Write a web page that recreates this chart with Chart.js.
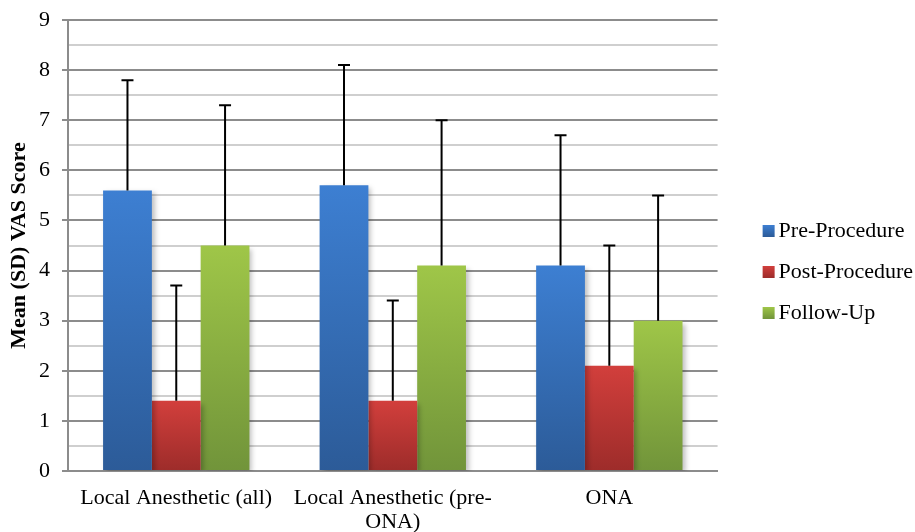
<!DOCTYPE html>
<html lang="en">
<head>
    <meta charset="utf-8"/>
    <script src="https://cdn.jsdelivr.net/npm/chart.js@4.4.0/dist/chart.umd.min.js"></script>
    <style>
        html, body { margin: 0; padding: 0; background: #fff; }
        #wrap { width: 915px; height: 532px; }
    </style>
</head>
<body>
    <div id="wrap"><canvas id="chart"></canvas></div>
    <script>
        // data
        const categories = ["Local Anesthetic (all)", ["Local Anesthetic (pre-", "ONA)"], "ONA"];
        const preProcedure = [5.6, 5.7, 4.1];
        const postProcedure = [1.4, 1.4, 2.1];
        const followUp = [4.5, 4.1, 3.0];
        const preSD = [2.2, 2.4, 2.6];
        const postSD = [2.3, 2.0, 2.4];
        const followSD = [2.8, 2.9, 2.5];

        const FONT = "'Liberation Serif', 'Times New Roman', serif";

        // top / bottom colours of each bar gradient
        const shades = [
            ["#3d7fd2", "#2c5b98"],
            ["#d23f3c", "#9d2c2a"],
            ["#9fc648", "#71943a"]
        ];

        function barGradient(pair) {
            return function(ctx) {
                const chart = ctx.chart;
                const y = chart.scales.y;
                if (!y || ctx.raw === undefined) return pair[0];
                const top = y.getPixelForValue(ctx.raw);
                const bottom = y.getPixelForValue(0);
                if (!isFinite(top) || !isFinite(bottom) || top === bottom) return pair[0];
                const g = chart.ctx.createLinearGradient(0, top, 0, bottom);
                g.addColorStop(0, pair[0]);
                g.addColorStop(1, pair[1]);
                return g;
            };
        }

        // legend marker: small square sitting at the right of a wider canvas
        function legendSquare(pair) {
            const cv = document.createElement("canvas");
            cv.width = 30;
            cv.height = 12;
            const c = cv.getContext("2d");
            const g = c.createLinearGradient(0, 0, 0, 12);
            g.addColorStop(0, pair[0]);
            g.addColorStop(1, pair[1]);
            c.fillStyle = g;
            c.fillRect(12, 0, 12, 12);
            return cv;
        }

        // upward-only error bars with a cap, drawn through the scales
        const errorBars = {
            id: "errorBars",
            afterDatasetsDraw(chart) {
                const c = chart.ctx;
                const y = chart.scales.y;
                c.save();
                c.strokeStyle = "#000";
                c.lineWidth = 2;
                chart.data.datasets.forEach((ds, i) => {
                    const meta = chart.getDatasetMeta(i);
                    meta.data.forEach((bar, j) => {
                        const yTop = y.getPixelForValue(ds.data[j] + ds.sd[j]);
                        c.beginPath();
                        c.moveTo(bar.x, bar.y);
                        c.lineTo(bar.x, yTop);
                        c.moveTo(bar.x - 6, yTop);
                        c.lineTo(bar.x + 6, yTop);
                        c.stroke();
                    });
                });
                c.restore();
            }
        };

        // soft drop shadow behind the bars
        const barShadow = {
            id: "barShadow",
            beforeDatasetDraw(chart) {
                const c = chart.ctx;
                c.save();
                c.shadowColor = "rgba(0,0,0,0.25)";
                c.shadowBlur = 5;
                c.shadowOffsetX = 3;
                c.shadowOffsetY = 3;
            },
            afterDatasetDraw(chart) {
                chart.ctx.restore();
            }
        };

        new Chart(document.getElementById("chart"), {
            type: "bar",
            data: {
                labels: categories,
                datasets: [
                    { label: "Pre-Procedure", data: preProcedure, sd: preSD, backgroundColor: barGradient(shades[0]) },
                    { label: "Post-Procedure", data: postProcedure, sd: postSD, backgroundColor: barGradient(shades[1]) },
                    { label: "Follow-Up", data: followUp, sd: followSD, backgroundColor: barGradient(shades[2]) }
                ]
            },
            options: {
                responsive: true,
                maintainAspectRatio: false,
                animation: false,
                layout: { padding: { top: 12, right: -8, left: 4, bottom: 0 } },
                datasets: {
                    bar: { categoryPercentage: 0.676, barPercentage: 1.0 }
                },
                plugins: {
                    tooltip: { enabled: false },
                    legend: {
                        position: "right",
                        maxWidth: 220,
                        labels: {
                            font: { family: FONT, size: 22 },
                            color: "#000",
                            usePointStyle: true,
                            boxWidth: 4,
                            boxHeight: 12,
                            padding: 19,
                            generateLabels(chart) {
                                return chart.data.datasets.map((ds, i) => ({
                                    text: ds.label,
                                    pointStyle: legendSquare(shades[i]),
                                    fillStyle: shades[i][0],
                                    strokeStyle: "rgba(0,0,0,0)",
                                    lineWidth: 0,
                                    datasetIndex: i
                                }));
                            }
                        }
                    }
                },
                scales: {
                    x: {
                        grid: { display: false, drawTicks: false },
                        border: { color: "#8c8c8c", width: 2 },
                        ticks: { font: { family: FONT, size: 22, lineHeight: 1.1 }, color: "#000", padding: 15, maxRotation: 0 },
                        afterFit(scale) { scale.height = 61; }
                    },
                    y: {
                        min: 0,
                        max: 9,
                        ticks: {
                            stepSize: 0.5,
                            autoSkip: false,
                            font: { family: FONT, size: 22 },
                            color: "#000",
                            padding: 12,
                            callback: v => Number.isInteger(v) ? v : ""
                        },
                        grid: {
                            color: c => Number.isInteger(c.tick.value) ? "#8c8c8c" : "#cfcfcf",
                            lineWidth: 2,
                            tickLength: 6,
                            tickColor: c => Number.isInteger(c.tick.value) ? "#8c8c8c" : "rgba(0,0,0,0)"
                        },
                        border: { color: "#8c8c8c", width: 2 },
                        title: {
                            display: true,
                            text: "Mean (SD) VAS Score",
                            font: { family: FONT, size: 22, weight: "bold" },
                            color: "#000",
                            padding: { top: 2, bottom: 2 }
                        },
                        afterFit(scale) {
                            scale.width = 64;
                            scale.paddingTop = 20;
                            scale.paddingBottom = 0;
                        }
                    },
                    // empty spacer between the plot and the legend
                    gap: {
                        type: "linear",
                        position: "right",
                        grid: { display: false },
                        border: { display: false },
                        ticks: { display: false },
                        afterFit(scale) { scale.width = 27; }
                    }
                }
            },
            plugins: [barShadow, errorBars]
        });
    </script>
</body>
</html>
